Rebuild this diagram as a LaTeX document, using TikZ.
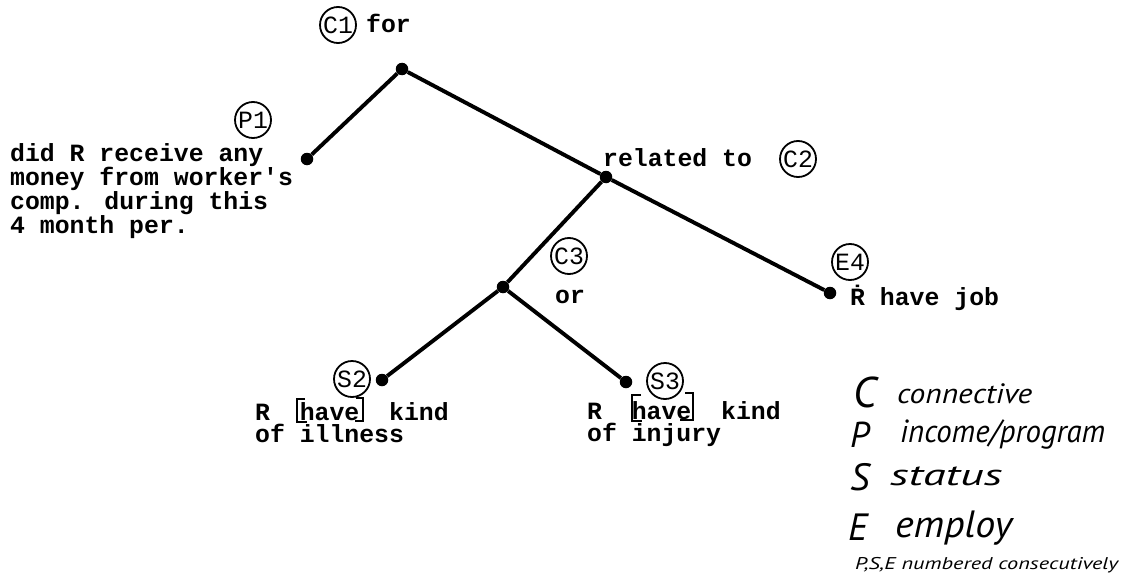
\documentclass[tikz,border=0pt]{standalone}
\usepackage{fontspec}
\usepackage{graphicx}
\usetikzlibrary{calc}
\newfontfamily\tw{Liberation Mono}
\newfontfamily\hand{PT Sans}
\newcommand\typesize{\fontsize{24.8}{25}\selectfont}
\newcommand\hw[2]{\hand\itshape\fontsize{#1}{#1}\selectfont #2}
\newcommand\hwfit[3]{\resizebox{#1}{\height}{\hw{#2}{#3}}}
% stacked typed lines; the box's baseline is that of the first line
\newcommand\lines[2]{\vtop{\baselineskip=#1\lineskiplimit=-30pt\lineskip=0pt
  \let\\\par\everypar{}\parindent=0pt\hsize=400pt\raggedright #2}}
\begin{document}
\begin{tikzpicture}[x=1pt,y=-1pt,
  dot/.style={circle, fill=black, inner sep=0pt, minimum size=12.5pt},
  tag/.style={circle, draw, line width=1.8pt, inner sep=0pt, minimum size=36pt,
              font=\tw\typesize},
  typed/.style={inner sep=0pt, anchor=base west, font=\tw\bfseries\typesize},
  branch/.style={line width=3.9pt},
  brk/.style={line width=1.7pt},
  handw/.style={inner sep=0pt, anchor=base west}]
\useasboundingbox[fill=white] (0,0) rectangle (1121,586);

% tree joints and leaves
\node[dot] (nC1) at (402,69) {};
\node[dot] (nP1) at (307,159) {};
\node[dot] (nC2) at (606,177) {};
\node[dot] (nC3) at (503,287) {};
\node[dot] (nE4) at (830,293) {};
\node[dot] (nS2) at (382,380) {};
\node[dot] (nS3) at (626,382) {};

% branches
\draw[branch] (nC1) -- (nP1);
\draw[branch] (nC1) -- (nC2);
\draw[branch] (nC2) -- (nE4);
\draw[branch] (nC2) -- (nC3);
\draw[branch] (nC3) -- (nS2);
\draw[branch] (nC3) -- (nS3);

% circled tags
\node[tag] (tC1) at (338,25) {C1};
\node[tag] (tP1) at (253,120) {P1};
\node[tag] (tC2) at (798,159) {C2};
\node[tag] (tC3) at (569,256) {C3};
\node[tag] (tE4) at (850,262) {E4};
\node[tag] (tS2) at (352,379) {S2};
\node[tag] (tS3) at (665,381) {S3};

% typed labels
\node[typed] (lC1) at (366,33) {for};
\node[typed] (lP1) at (10,161) {\lines{24pt}{did R receive any\\money from worker's\\comp. during this\\4 month per.}};
\node[typed] (lC2) at (603,166) {related to};
\node[typed] (lC3) at (555,303) {or};
\node[typed] (lE4) at (850,305) {\.{R} have job};
\node[typed] (lS2) at (255,420) {\lines{22pt}{R~~have~~kind\\of illness}};
\node[typed] (lS3) at (587,419) {\lines{22pt}{R~~have~~kind\\of injury}};

% hand-drawn brackets round "have"
\draw[brk] ($(lS2.base west)+(50,-21)$) -- ++(-8,0) -- ++(0,23) -- ++(10,0);
\draw[brk] ($(lS2.base west)+(101,-22)$) -- ++(7,0) -- ++(0,23) -- ++(-8,0);
\draw[brk] ($(lS3.base west)+(54,-24)$) -- ++(-9,0) -- ++(0,26) -- ++(10,0);
\draw[brk] ($(lS3.base west)+(98,-26)$) -- ++(8,0) -- ++(0,27) -- ++(-13,0);

% handwritten key
\node[handw] (kC) at (853,407) {\hw{43}{C}};
\node[handw] (kCw) at (897,403) {\hwfit{135pt}{28}{connective}};
\node[handw] (kP) at (850,447) {\hw{36}{P}};
\node[handw] (kPw) at (900,442) {\hwfit{205pt}{32}{income/program}};
\node[handw] (kS) at (850,490) {\hw{38}{S}};
\node[handw] (kSw) at (890,485) {\hwfit{112pt}{30}{status}};
\node[handw] (kE) at (848,540) {\hw{38}{E}};
\node[handw] (kEw) at (895,537) {\hwfit{117pt}{38}{employ}};
\node[handw] (kN) at (855,569) {\hwfit{263pt}{17}{P,S,E numbered consecutively}};
\end{tikzpicture}
\end{document}
